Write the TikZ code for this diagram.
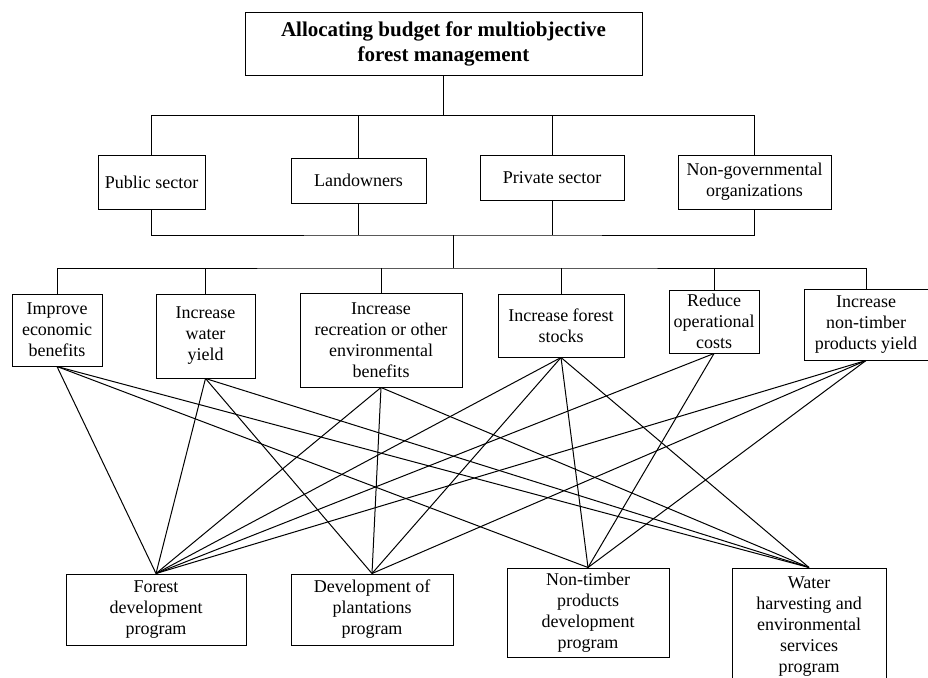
\documentclass[tikz,border=0pt]{standalone}
\usepackage{fontspec}
\setmainfont{Liberation Serif}
\usepackage{tikz}

\begin{document}
\begin{tikzpicture}[x=1pt, y=-1pt, line width=1pt,
    box/.style={draw, align=center, inner sep=0pt, font=\fontsize{18}{21}\selectfont}]
\useasboundingbox (0, 0) rectangle (928, 677);

% goal
\node (top) at (443.5, 44) [box, minimum width=397pt, minimum height=62pt, font=\fontsize{21}{25}\selectfont\bfseries] {Allocating budget for multiobjective\\forest management};

% actors
\node (pub) at (151.5, 182) [box, minimum width=107pt, minimum height=54pt] {Public sector};
\node (land) at (358.5, 180.5) [box, minimum width=135pt, minimum height=45pt] {Landowners};
\node (priv) at (552, 177.5) [box, minimum width=144pt, minimum height=45pt] {Private sector};
\node (ngo) at (754.5, 182) [box, minimum width=153pt, minimum height=54pt] {Non-governmental\\organizations};

% objectives
\node (econ) at (57, 330) [box, minimum width=90pt, minimum height=72pt] {Improve\\economic\\benefits};
\node (water) at (205.5, 336) [box, minimum width=99pt, minimum height=84pt] {Increase\\water\\yield};
\node (recr) at (381, 340) [box, minimum width=162pt, minimum height=94pt] {Increase\\recreation or other\\environmental\\benefits};
\node (stock) at (561, 325.5) [box, minimum width=126pt, minimum height=63pt] {Increase forest\\stocks};
\node (cost) at (714, 321.5) [box, minimum width=90pt, minimum height=63pt] {Reduce\\operational\\costs};
\node (ntfp) at (866, 324.5) [box, minimum width=124pt, minimum height=71pt] {Increase\\non-timber\\products yield};

% programs
\node (fdp) at (156, 609.5) [box, minimum width=180pt, minimum height=71pt] {Forest\\development\\program};
\node (dpp) at (372, 609.5) [box, minimum width=162pt, minimum height=71pt] {Development of\\plantations\\program};
\node (ntp) at (588, 612.5) [box, minimum width=162pt, minimum height=89pt] {Non-timber\\products\\development\\program};
\node (whp) at (809, 627) [box, minimum width=154pt, minimum height=118pt] {Water\\harvesting and\\environmental\\services\\program};

% tree part
\draw (top.south) -- ++(0, 40) coordinate (j1);
\draw (pub.north) |- (j1) -| (ngo.north);
\draw (land.north) -- (land.north |- j1);
\draw (priv.north) -- (priv.north |- j1);

\coordinate (j2) at (453, 235);
\draw (pub.south) |- (j2) -| (ngo.south);
\draw (land.south) -- (land.south |- j2);
\draw (priv.south) -- (priv.south |- j2);
\draw (j2) -- ++(0, 33) coordinate (j3);
\draw (econ.north) |- (j3) -| (ntfp.north);
\foreach \n in {water, recr, stock, cost}
  \draw (\n.north) -- (\n.north |- j3);

% objectives to programs
\foreach \a/\b in {econ/fdp, econ/ntp, econ/whp, water/fdp, water/dpp, water/whp,
    recr/fdp, recr/dpp, recr/whp, stock/fdp, stock/dpp, stock/ntp, stock/whp,
    cost/fdp, cost/ntp, ntfp/fdp, ntfp/dpp, ntfp/ntp}
  \draw (\a.south) -- (\b.north);

\end{tikzpicture}
\end{document}
